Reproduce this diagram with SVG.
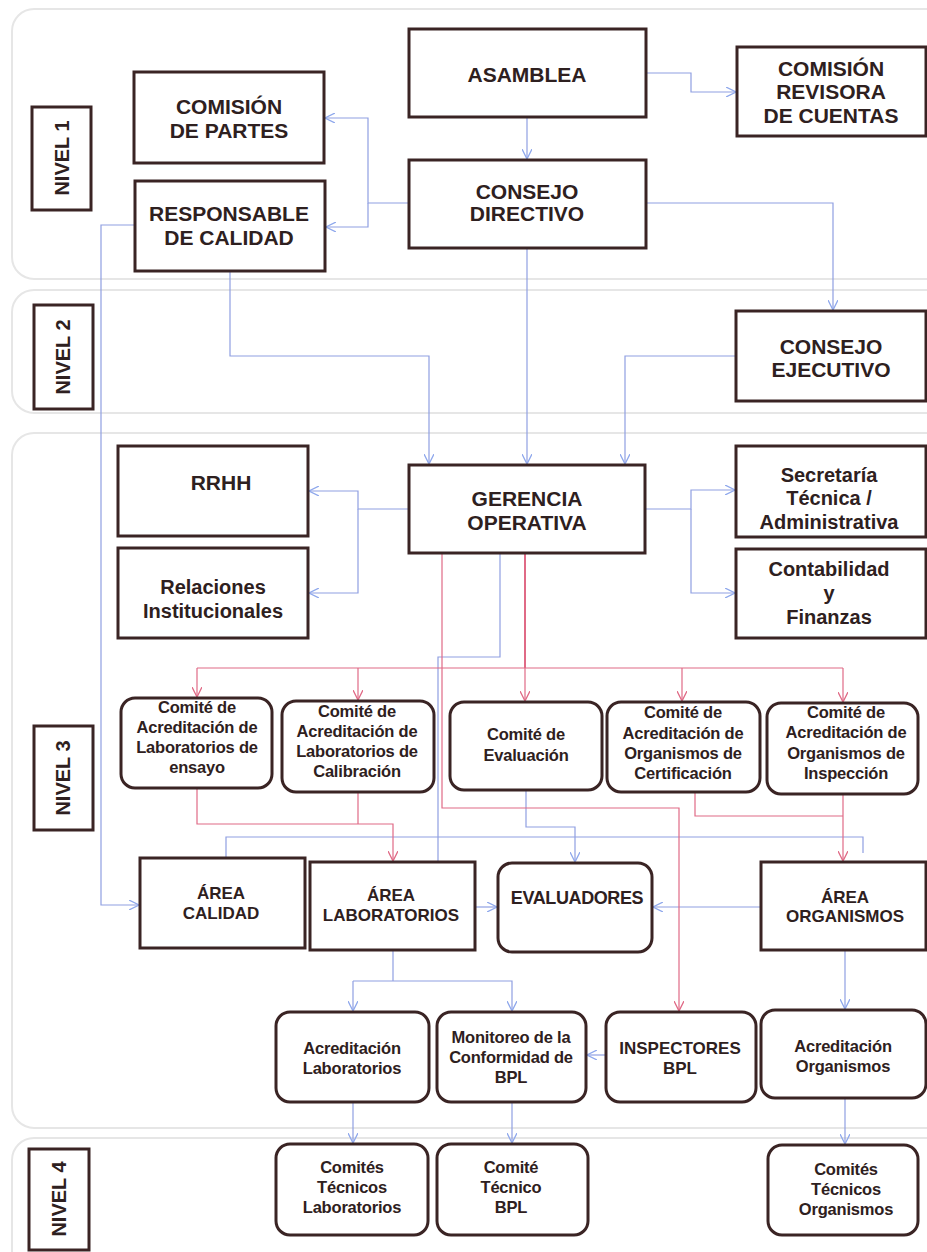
<svg xmlns="http://www.w3.org/2000/svg" width="927" height="1252" viewBox="0 0 927 1252">
<defs>
<style>
.band{fill:none;stroke:#e6e6e6;stroke-width:2}
.box{fill:#fff;stroke:#3a2424;stroke-width:3}
.lvl{fill:#fff;stroke:#3a2424;stroke-width:3}
text{font-family:"Liberation Sans",Arial,sans-serif;font-weight:bold;fill:#2e2020;text-anchor:middle}
.f21{font-size:21px}
.f20{font-size:20px}
.f18{font-size:18px}
.f17{font-size:17px}
.f16{font-size:16.5px;letter-spacing:-0.2px}
.b{fill:none;stroke:#8f9fe2;stroke-width:1.2}
.r{fill:none;stroke:#e06a86;stroke-width:1.2}
.ba{marker-end:url(#ab)}
.ra{marker-end:url(#ar)}
</style>
<marker id="ab" viewBox="0 0 10 10" refX="10" refY="5" markerWidth="10" markerHeight="10" markerUnits="userSpaceOnUse" orient="auto">
<path d="M0,0 L10,5 L0,10" fill="none" stroke="#8fa8ec" stroke-width="1.3"/>
</marker>
<marker id="ar" viewBox="0 0 10 10" refX="10" refY="5" markerWidth="10" markerHeight="10" markerUnits="userSpaceOnUse" orient="auto">
<path d="M0,0 L10,5 L0,10" fill="none" stroke="#e06a86" stroke-width="1.3"/>
</marker>
</defs>
<rect width="927" height="1252" fill="#fff"/>
<g id="bands">
<rect class="band" x="12" y="9" width="940" height="270" rx="22"/>
<rect class="band" x="12" y="290" width="940" height="123" rx="22"/>
<rect class="band" x="12" y="433" width="940" height="695" rx="22"/>
<rect class="band" x="12" y="1138" width="940" height="140" rx="22"/>
</g>
<g id="levels">
<g id="nivel1"><rect class="lvl" x="32" y="107" width="59" height="103"/><text class="f20" transform="translate(69,158) rotate(-90)">NIVEL 1</text></g>
<g id="nivel2"><rect class="lvl" x="34" y="305" width="59" height="104"/><text class="f20" transform="translate(70,357) rotate(-90)">NIVEL 2</text></g>
<g id="nivel3"><rect class="lvl" x="34" y="726" width="59" height="104"/><text class="f20" transform="translate(70,778) rotate(-90)">NIVEL 3</text></g>
<g id="nivel4"><rect class="lvl" x="29" y="1149" width="60" height="101"/><text class="f20" transform="translate(66,1199) rotate(-90)">NIVEL 4</text></g>
</g>
<g id="connectors">
<path class="b ba" d="M646,73 H691 V92 H736"/>
<path class="b ba" d="M527,117 V159"/>
<path class="b ba" d="M409,203 H368 V118 H325"/>
<path class="b ba" d="M368,203 V227 H326"/>
<path class="b ba" d="M646,203 H833 V310"/>
<path class="b ba" d="M527,248 V464"/>
<path class="b ba" d="M230,271 V356 H429 V464"/>
<path class="b ba" d="M736,356 H625 V464"/>
<path class="b ba" d="M135,225 H101 V905 H139"/>
<path class="b ba" d="M409,509 H358 V491 H309"/>
<path class="b ba" d="M358,509 V593 H309"/>
<path class="b ba" d="M645,509 H691 V490 H735"/>
<path class="b ba" d="M691,509 V593 H735"/>
<path class="b" d="M500,553 V657 H438 V861"/>
<path class="b" d="M226,857 V837 H863 V853"/>
<path class="b ba" d="M526,790 V827 H575 V862"/>
<path class="b ba" d="M475,907 H497"/>
<path class="b ba" d="M761,907 H653"/>
<path class="b" d="M393,950 V981"/>
<path class="b ba" d="M353,981 V1011"/>
<path class="b ba" d="M353,981 H512 V1011"/>
<path class="b ba" d="M606,1055 H587"/>
<path class="b ba" d="M845,950 V1009"/>
<path class="b ba" d="M353,1102 V1143"/>
<path class="b ba" d="M512,1102 V1143"/>
<path class="b ba" d="M845,1098 V1144"/>
<path class="r" d="M197,668 H843"/>
<path class="r" style="stroke-width:2" d="M525,553 V668"/>
<path class="r ra" d="M525,668 V701"/>
<path class="r ra" d="M197,668 V697"/>
<path class="r ra" d="M358,668 V700"/>
<path class="r ra" d="M682,668 V701"/>
<path class="r ra" d="M843,668 V702"/>
<path class="r ra" d="M442,553 V808 H679 V1011"/>
<path class="r ra" d="M197,788 V824 H393 V861"/>
<path class="r" d="M358,792 V824"/>
<path class="r" d="M695,792 V816 H843"/>
<path class="r ra" d="M843,794 V861"/>
</g>
<g id="asamblea"><rect class="box" x="409" y="29" width="237" height="88"/><text class="f21" x="527" y="82">ASAMBLEA</text></g>
<g id="revisora"><rect class="box" x="737" y="47" width="189" height="89"/><text class="f21"><tspan x="831" y="75.5">COMISIÓN</tspan><tspan x="831" y="99">REVISORA</tspan><tspan x="831" y="122.5">DE CUENTAS</tspan></text></g>
<g id="partes"><rect class="box" x="134" y="72" width="190" height="91"/><text class="f21"><tspan x="229" y="113.5">COMISIÓN</tspan><tspan x="229" y="137.5">DE PARTES</tspan></text></g>
<g id="responsable"><rect class="box" x="135" y="181" width="190" height="90"/><text class="f21"><tspan x="229" y="220.5">RESPONSABLE</tspan><tspan x="229" y="244.5">DE CALIDAD</tspan></text></g>
<g id="directivo"><rect class="box" x="409" y="160" width="237" height="88"/><text class="f21"><tspan x="527" y="198.5">CONSEJO</tspan><tspan x="527" y="221">DIRECTIVO</tspan></text></g>
<g id="ejecutivo"><rect class="box" x="736" y="311" width="190" height="90"/><text class="f21"><tspan x="831" y="353.5">CONSEJO</tspan><tspan x="831" y="376.5">EJECUTIVO</tspan></text></g>
<g id="gerencia"><rect class="box" x="409" y="465" width="236" height="88"/><text class="f21"><tspan x="527" y="505.5">GERENCIA</tspan><tspan x="527" y="529.5">OPERATIVA</tspan></text></g>
<g id="rrhh"><rect class="box" x="118" y="446" width="190" height="90"/><text class="f21" x="221" y="489.5">RRHH</text></g>
<g id="relaciones"><rect class="box" x="118" y="548" width="190" height="90"/><text class="f20"><tspan x="213" y="594">Relaciones</tspan><tspan x="213" y="618">Institucionales</tspan></text></g>
<g id="secretaria"><rect class="box" x="736" y="446" width="190" height="91"/><text class="f20"><tspan x="829" y="482">Secretaría</tspan><tspan x="829" y="505">Técnica /</tspan><tspan x="829" y="529">Administrativa</tspan></text></g>
<g id="contabilidad"><rect class="box" x="736" y="549" width="190" height="89"/><text class="f20"><tspan x="829" y="576">Contabilidad</tspan><tspan x="829" y="600">y</tspan><tspan x="829" y="624">Finanzas</tspan></text></g>
<g id="comite-ensayo"><rect class="box" x="121" y="698" width="151" height="90" rx="14"/><text class="f16"><tspan x="197" y="713">Comité de</tspan><tspan x="197" y="733">Acreditación de</tspan><tspan x="197" y="753">Laboratorios de</tspan><tspan x="197" y="773">ensayo</tspan></text></g>
<g id="comite-calibracion"><rect class="box" x="282" y="701" width="152" height="91" rx="14"/><text class="f16"><tspan x="357" y="717">Comité de</tspan><tspan x="357" y="737">Acreditación de</tspan><tspan x="357" y="757">Laboratorios de</tspan><tspan x="357" y="777">Calibración</tspan></text></g>
<g id="comite-evaluacion"><rect class="box" x="450" y="702" width="152" height="88" rx="14"/><text class="f16"><tspan x="526" y="740">Comité de</tspan><tspan x="526" y="761">Evaluación</tspan></text></g>
<g id="comite-certificacion"><rect class="box" x="607" y="702" width="153" height="90" rx="14"/><text class="f16"><tspan x="683" y="718">Comité de</tspan><tspan x="683" y="739">Acreditación de</tspan><tspan x="683" y="759">Organismos de</tspan><tspan x="683" y="779">Certificación</tspan></text></g>
<g id="comite-inspeccion"><rect class="box" x="767" y="703" width="151" height="91" rx="14"/><text class="f16"><tspan x="846" y="718">Comité de</tspan><tspan x="846" y="738">Acreditación de</tspan><tspan x="846" y="759">Organismos de</tspan><tspan x="846" y="779">Inspección</tspan></text></g>
<g id="area-calidad"><rect class="box" x="140" y="858" width="165" height="90"/><text class="f17"><tspan x="221" y="899">ÁREA</tspan><tspan x="221" y="919">CALIDAD</tspan></text></g>
<g id="area-laboratorios"><rect class="box" x="310" y="862" width="165" height="88"/><text class="f17"><tspan x="391" y="901">ÁREA</tspan><tspan x="391" y="921">LABORATORIOS</tspan></text></g>
<g id="evaluadores"><rect class="box" x="498" y="863" width="154" height="89" rx="14"/><text class="f18" x="577" y="904" style="letter-spacing:-0.4px">EVALUADORES</text></g>
<g id="area-organismos"><rect class="box" x="761" y="862" width="165" height="88"/><text class="f17"><tspan x="845" y="903">ÁREA</tspan><tspan x="845" y="922">ORGANISMOS</tspan></text></g>
<g id="acred-lab"><rect class="box" x="276" y="1012" width="153" height="90" rx="14"/><text class="f16"><tspan x="352" y="1054">Acreditación</tspan><tspan x="352" y="1074">Laboratorios</tspan></text></g>
<g id="monitoreo"><rect class="box" x="437" y="1012" width="149" height="90" rx="14"/><text class="f16"><tspan x="511" y="1043">Monitoreo de la</tspan><tspan x="511" y="1063">Conformidad de</tspan><tspan x="511" y="1083">BPL</tspan></text></g>
<g id="inspectores"><rect class="box" x="606" y="1012" width="150" height="90" rx="14"/><text class="f17"><tspan x="680" y="1054">INSPECTORES</tspan><tspan x="680" y="1074">BPL</tspan></text></g>
<g id="acred-org"><rect class="box" x="761" y="1010" width="165" height="88" rx="14"/><text class="f16"><tspan x="843" y="1052">Acreditación</tspan><tspan x="843" y="1072">Organismos</tspan></text></g>
<g id="ct-lab"><rect class="box" x="276" y="1144" width="152" height="91" rx="14"/><text class="f16"><tspan x="352" y="1173">Comités</tspan><tspan x="352" y="1193">Técnicos</tspan><tspan x="352" y="1213">Laboratorios</tspan></text></g>
<g id="ct-bpl"><rect class="box" x="437" y="1144" width="151" height="91" rx="14"/><text class="f16"><tspan x="511" y="1173">Comité</tspan><tspan x="511" y="1193">Técnico</tspan><tspan x="511" y="1213">BPL</tspan></text></g>
<g id="ct-org"><rect class="box" x="768" y="1145" width="150" height="90" rx="14"/><text class="f16"><tspan x="846" y="1175">Comités</tspan><tspan x="846" y="1195">Técnicos</tspan><tspan x="846" y="1215">Organismos</tspan></text></g>
</svg>
